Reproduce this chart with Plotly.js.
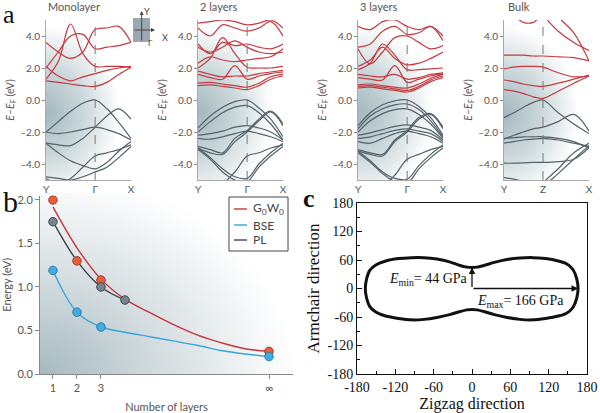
<!DOCTYPE html>
<html><head><meta charset="utf-8">
<script src="https://cdn.plot.ly/plotly-3.0.1.min.js"></script>
<style>html,body{margin:0;padding:0;background:#fff}#chart{width:600px;height:413px}</style>
</head><body><div id="chart"></div>
<script>
// ---------- Panel a : band structures ----------
const kMono = [0, 0.25, 0.5, 0.75, 1, 1.24, 1.48, 1.73];
const kBulk = [0, 0.25, 0.5, 0.75, 1, 1.39, 1.79, 2.18];
const kLabels = ['Y', 'Γ', 'X'];
const kLabelsBulk = ['Y', 'Z', 'X'];
const eTickVals = [-4, -2, 0, 2, 4];
const eTickText = ['–4.0', '–2.0', '0.0', '2.0', '4.0'];
const panelTitles = ['Monolayer', '2 layers', '3 layers', 'Bulk'];

const monoCB = [
  [1.2, 1.1, 1.0, 0.9, 0.85, 1.1, 1.6, 2.05],
  [2.1, 1.5, 1.2, 1.45, 1.65, 1.85, 2.0, 2.1],
  [1.3, 2.4, 4.75, 2.9, 2.1, 2.1, 2.1, 2.05],
  [2.0, 3.0, 4.0, 4.1, 3.2, 3.3, 3.4, 3.6],
  [3.6, 3.0, 2.6, 3.0, 4.4, 4.5, 4.6, 3.6]
];
const monoVB = [
  [-2.0, -1.35, -0.7, -0.2, 0.0, -0.55, -1.4, -2.4],
  [-2.0, -2.1, -2.0, -1.85, -1.7, -1.85, -2.1, -2.5],
  [-2.7, -2.8, -2.85, -2.4, -1.7, -1.0, -0.55, -1.2],
  [-2.7, -3.3, -3.8, -4.1, -4.3, -3.9, -3.2, -2.6],
  [-4.9, -5.2, -4.9, -4.2, -3.5, -3.3, -3.1, -2.8],
  [-4.8, -4.9, -5.0, -4.8, -4.5, -4.2, -3.6, -2.9]
];
const biCB = [
  [0.9, 0.95, 0.85, 0.75, 0.65, 0.9, 1.3, 1.5],
  [1.05, 1.1, 1.0, 0.9, 0.8, 1.05, 1.45, 1.6],
  [1.6, 1.4, 1.3, 2.15, 1.3, 1.5, 1.65, 1.75],
  [1.8, 1.6, 1.45, 1.5, 1.5, 1.65, 1.75, 1.85],
  [2.0, 2.6, 3.9, 2.9, 2.05, 2.0, 2.0, 2.1],
  [2.3, 2.7, 2.5, 2.4, 2.5, 2.6, 2.7, 3.2],
  [3.3, 3.0, 3.3, 3.7, 3.3, 3.0, 2.9, 3.0],
  [3.5, 2.9, 3.6, 3.4, 3.5, 3.3, 3.2, 3.5],
  [4.5, 4.0, 4.7, 4.5, 4.3, 4.5, 4.9, 4.0],
  [4.8, 4.9, 5.0, 4.9, 4.7, 4.8, 5.0, 4.5]
];
const biVB = [
  [-1.75, -1.0, -0.45, -0.1, 0.0, -0.5, -1.2, -2.3],
  [-2.0, -1.35, -0.8, -0.45, -0.35, -0.8, -1.5, -2.5],
  [-2.2, -2.1, -1.95, -1.7, -1.6, -1.75, -2.0, -2.5],
  [-2.4, -2.45, -2.3, -2.1, -1.95, -2.1, -2.3, -2.6],
  [-2.9, -3.1, -3.3, -2.4, -1.9, -1.2, -0.7, -1.5],
  [-3.0, -3.3, -3.4, -2.6, -2.0, -1.3, -0.75, -1.6],
  [-3.0, -3.6, -4.3, -4.8, -4.9, -4.0, -3.3, -2.7],
  [-3.1, -3.7, -4.5, -5.0, -5.1, -4.2, -3.5, -2.9],
  [-5.2, -5.3, -5.2, -4.5, -3.5, -3.3, -3.0, -2.8]
];
const triCB = [
  [0.75, 0.8, 0.7, 0.6, 0.5, 0.75, 1.15, 1.4],
  [0.85, 0.9, 0.8, 0.7, 0.6, 0.85, 1.25, 1.5],
  [0.95, 1.0, 0.9, 0.8, 0.75, 1.0, 1.35, 1.6],
  [1.4, 1.3, 1.25, 2.15, 1.1, 1.3, 1.5, 1.65],
  [1.6, 1.5, 1.45, 1.6, 1.3, 1.4, 1.6, 1.7],
  [1.9, 2.3, 3.5, 2.8, 1.9, 1.9, 1.95, 2.0],
  [2.1, 2.5, 3.3, 2.6, 2.2, 2.3, 2.6, 3.0],
  [3.2, 2.25, 3.0, 3.9, 4.0, 3.6, 3.2, 3.4],
  [3.3, 3.5, 4.3, 4.6, 4.1, 4.2, 4.6, 3.7],
  [4.6, 4.4, 4.9, 5.0, 4.6, 4.4, 4.6, 4.0]
];
const triVB = [
  [-1.6, -0.8, -0.3, -0.05, 0.0, -0.4, -1.1, -2.2],
  [-1.8, -1.0, -0.55, -0.3, -0.25, -0.6, -1.3, -2.3],
  [-2.0, -1.3, -0.85, -0.6, -0.55, -0.9, -1.5, -2.4],
  [-2.2, -2.05, -1.85, -1.65, -1.55, -1.7, -1.9, -2.5],
  [-2.4, -2.3, -2.1, -1.9, -1.8, -1.95, -2.1, -2.6],
  [-2.6, -2.7, -2.4, -2.1, -1.95, -2.1, -2.3, -2.7],
  [-3.1, -3.3, -3.4, -2.5, -1.9, -1.1, -0.85, -1.7],
  [-3.2, -3.4, -3.5, -2.6, -2.0, -1.2, -0.9, -1.8],
  [-3.2, -3.8, -4.5, -4.9, -4.95, -4.1, -3.4, -2.8],
  [-3.3, -3.9, -4.6, -5.1, -5.2, -4.3, -3.6, -3.0],
  [-6.0, -5.8, -5.4, -4.7, -3.7, -3.4, -3.1, -2.9]
];
const bulkCB = [
  [0.65, 0.55, 0.4, 0.2, 0.1, 0.55, 1.05, 1.5],
  [1.25, 1.15, 1.0, 0.9, 0.85, 1.05, 1.3, 1.55],
  [1.95, 2.05, 2.1, 2.1, 2.05, 1.7, 1.45, 1.5],
  [2.8, 2.8, 2.8, 2.75, 2.75, 2.7, 2.65, 2.45],
  [6.0, 5.3, 4.85, 4.85, 5.4, 6.0, 6.5, 7.0],
  [7.5, 7.0, 6.5, 6.0, 5.3, 4.3, 3.6, 3.1],
  [8.0, 8.0, 7.5, 7.0, 6.5, 5.2, 4.2, 2.45]
];
const bulkVB = [
  [-1.1, -0.8, -0.45, -0.15, 0.0, -0.8, -1.5, -2.1],
  [-2.45, -2.2, -2.0, -1.8, -1.7, -1.35, -0.9, -1.95],
  [-2.4, -2.35, -2.3, -2.3, -2.3, -2.4, -2.6, -3.0],
  [-2.7, -2.6, -2.5, -2.45, -2.4, -2.5, -2.7, -2.9],
  [-3.95, -3.95, -3.93, -3.9, -3.9, -3.85, -3.7, -3.0],
  [-4.85, -4.95, -5.1, -5.3, -5.5, -5.8, -6.0, -6.2],
  [-8.0, -8.0, -7.0, -6.5, -5.5, -4.6, -3.7, -2.85],
  [-8.0, -7.5, -7.0, -6.2, -5.2, -4.3, -3.3, -2.7]
];

// ---------- Panel b : energy vs number of layers ----------
const layerTickVals = [1, 2, 3, 10];
const layerTickText = ['1', '2', '3', '∞'];
const energyTickVals = [0, 0.5, 1.0, 1.5, 2.0];
const energyTickText = ['0.0', '0.5', '1.0', '1.5', '2.0'];
const fitLayers = [1, 2, 3, 4, 5, 6, 7, 8, 9, 10];
const g0w0Fit = [1.92, 1.45, 1.09, 0.86, 0.71, 0.57, 0.45, 0.36, 0.29, 0.26];
const bseFit = [1.19, 0.71, 0.54, 0.48, 0.43, 0.38, 0.33, 0.27, 0.23, 0.2];
const plFitLayers = [1, 2, 3, 4];
const plFit = [1.75, 1.3, 1.0, 0.85];
const g0w0Layers = [1, 2, 3, 10];
const g0w0Pts = [2.0, 1.3, 1.08, 0.26];
const bseLayers = [1, 2, 3, 10];
const bsePts = [1.19, 0.71, 0.54, 0.2];
const plLayers = [1, 3, 4];
const plPts = [1.75, 1.0, 0.85];
const legendNames = ['G<sub>0</sub>W<sub>0</sub>', 'BSE', 'PL'];

// ---------- Panel c : Young's modulus polar shape ----------
const zigzag = [166, 164, 158, 148, 135, 115, 95, 75, 55, 35, 20, 8, 0, -8, -20, -35, -55, -75, -95, -115, -135, -150, -160, -165, -167,
  -165, -160, -150, -135, -115, -95, -75, -55, -35, -20, -8, 0, 8, 20, 35, 55, 75, 95, 115, 135, 148, 158, 164, 166];
const armchair = [0, 20, 40, 52, 58, 63, 65, 64, 61, 55, 49, 45, 44, 45, 49, 56, 62, 65, 65, 63, 58, 50, 38, 20, 0,
  -20, -38, -50, -58, -63, -66, -65, -61, -55, -49, -45, -44, -45, -49, -55, -61, -65, -66, -63, -58, -52, -40, -20, 0];
const cTickVals = [-180, -120, -60, 0, 60, 120, 180];
const cTickText = ['-180', '-120', '-60', '0', '60', '120', '180'];
const eMin = 44, eMax = 166;

// ---------- build ----------
const RED = '#c43a40', GRAY = '#52626a';
const SANS = 'Lato, "Noto Sans", sans-serif';
const SERIF = '"Liberation Serif", "Times New Roman", serif';
const TXT = '#555';
const LINE_COLORS = ['#c8353a', '#3aa3dc', '#3c474c'];
const traces = [];
function addBands(rows, k, ax, color) {
  rows.forEach(r => traces.push({x: k, y: r, mode: 'lines', xaxis: 'x' + ax, yaxis: 'y' + ax,
    line: {shape: 'spline', smoothing: 1, color: color, width: 1.2}, showlegend: false, hoverinfo: 'skip'}));
}
addBands(monoVB, kMono, '', GRAY); addBands(monoCB, kMono, '', RED);
addBands(biVB, kMono, '2', GRAY); addBands(biCB, kMono, '2', RED);
addBands(triVB, kMono, '3', GRAY); addBands(triCB, kMono, '3', RED);
addBands(bulkVB, kBulk, '4', GRAY); addBands(bulkCB, kBulk, '4', RED);

// panel b
traces.push({x: fitLayers, y: g0w0Fit, mode: 'lines', name: legendNames[0], xaxis: 'x5', yaxis: 'y5', showlegend: false,
  line: {shape: 'spline', color: LINE_COLORS[0], width: 1.4}});
traces.push({x: fitLayers, y: bseFit, mode: 'lines', name: legendNames[1], xaxis: 'x5', yaxis: 'y5', showlegend: false,
  line: {shape: 'spline', color: LINE_COLORS[1], width: 1.4}});
traces.push({x: plFitLayers, y: plFit, mode: 'lines', name: legendNames[2], xaxis: 'x5', yaxis: 'y5', showlegend: false,
  line: {shape: 'spline', color: LINE_COLORS[2], width: 1.4}});
traces.push({x: g0w0Layers, y: g0w0Pts, mode: 'markers', xaxis: 'x5', yaxis: 'y5', showlegend: false,
  marker: {size: 8.5, color: '#e65f3e', line: {color: '#a8392b', width: 1}}});
traces.push({x: plLayers, y: plPts, mode: 'markers', xaxis: 'x5', yaxis: 'y5', showlegend: false,
  marker: {size: 8.5, color: '#75838a', line: {color: '#3f4b50', width: 1}}});
traces.push({x: bseLayers, y: bsePts, mode: 'markers', xaxis: 'x5', yaxis: 'y5', showlegend: false,
  marker: {size: 8.5, color: '#42abe2', line: {color: '#2b7eae', width: 1}}});

// panel c
traces.push({x: zigzag, y: armchair, mode: 'lines', xaxis: 'x6', yaxis: 'y6', showlegend: false,
  line: {shape: 'spline', smoothing: 0.8, color: '#111', width: 3}});

const W = 600, H = 413;
const px = v => v / W, py = v => 1 - v / H;

function bandAxes(xd, kmax, labels) {
  return [{
    domain: [px(xd[0]), px(xd[1])], range: [0, kmax], tickvals: [0, 1, kmax], ticktext: labels,
    showgrid: false, zeroline: false, showline: true, linecolor: '#aaa', linewidth: 1, ticks: '',
    tickfont: {family: SANS, size: 10, color: TXT}, fixedrange: true
  }, {
    domain: [py(180), py(20)], range: [-5, 5], tickvals: eTickVals, ticktext: eTickText,
    showgrid: false, zeroline: false, showline: true, linecolor: '#aaa', linewidth: 1,
    ticks: 'outside', ticklen: 3, tickcolor: '#888',
    tickfont: {family: SANS, size: 10, color: TXT},
    title: {text: '<i>E</i>–<i>E</i><sub>F</sub> (eV)', font: {family: SANS, size: 10.5, color: TXT}, standoff: 3},
    fixedrange: true
  }];
}
const [x1, y1] = bandAxes([46, 131], kMono[7], kLabels);
const [x2, y2] = bandAxes([198, 283], kMono[7], kLabels);
const [x3, y3] = bandAxes([358, 443], kMono[7], kLabels);
const [x4, y4] = bandAxes([504, 589], kBulk[7], kLabelsBulk);
y2.anchor = 'x2'; x2.anchor = 'y2';
y3.anchor = 'x3'; x3.anchor = 'y3';
y4.anchor = 'x4'; x4.anchor = 'y4';

const bandGrad = "<svg xmlns='http://www.w3.org/2000/svg' width='100' height='100' viewBox='0 0 100 100' preserveAspectRatio='none'><defs><radialGradient id='g' gradientUnits='userSpaceOnUse' cx='0' cy='58' r='100' fx='0' fy='58' gradientTransform='translate(0 58) scale(1 0.62) translate(0 -58)'><stop offset='0' stop-color='#a4b8bf'/><stop offset='0.45' stop-color='#ccd8db'/><stop offset='0.88' stop-color='#ffffff'/></radialGradient></defs><rect width='100' height='100' fill='url(#g)'/></svg>";
const bGrad = "<svg xmlns='http://www.w3.org/2000/svg' width='100' height='100' viewBox='0 0 100 100' preserveAspectRatio='none'><defs><radialGradient id='g' gradientUnits='userSpaceOnUse' cx='0' cy='100' r='104' fx='0' fy='100' gradientTransform='translate(0 100) scale(1 1.1) translate(0 -100)'><stop offset='0' stop-color='#a6b9c0'/><stop offset='0.45' stop-color='#d3dcdf'/><stop offset='0.85' stop-color='#f6f8f9'/><stop offset='0.97' stop-color='#ffffff'/></radialGradient></defs><rect width='100' height='100' fill='url(#g)'/></svg>";
const uri = s => 'data:image/svg+xml;charset=utf-8,' + encodeURIComponent(s);
const images = [];
[[46, 131], [198, 283], [358, 443], [504, 589]].forEach(d => images.push({
  source: uri(bandGrad), xref: 'paper', yref: 'paper', x: px(d[0]), y: py(20), sizex: (d[1] - d[0]) / W, sizey: 160 / H,
  xanchor: 'left', yanchor: 'top', sizing: 'stretch', layer: 'below'}));
images.push({source: uri(bGrad), xref: 'paper', yref: 'paper', x: px(40), y: py(193), sizex: 253 / W, sizey: 181 / H,
  xanchor: 'left', yanchor: 'top', sizing: 'stretch', layer: 'below'});

const shapes = [];
[['x', 'y', 1], ['x2', 'y2', 1], ['x3', 'y3', 1], ['x4', 'y4', 1]].forEach(s => shapes.push({
  type: 'line', xref: s[0], yref: s[1] + ' domain', x0: s[2], x1: s[2], y0: 0, y1: 1,
  line: {color: '#777', width: 1, dash: 'dash'}}));
// inset axis icon
shapes.push({type: 'rect', xref: 'paper', yref: 'paper', x0: px(133), x1: px(150), y0: py(42), y1: py(18),
  fillcolor: '#9aa9b1', line: {width: 0}});
// panel b legend box and samples
shapes.push({type: 'rect', xref: 'paper', yref: 'paper', x0: px(229), x1: px(288), y0: py(251), y1: py(197),
  fillcolor: '#fff', line: {color: '#444', width: 1}});
const legY = [209, 225, 240];
legY.forEach((yy, i) => shapes.push({type: 'line', xref: 'paper', yref: 'paper', x0: px(234), x1: px(247),
  y0: py(yy), y1: py(yy), line: {color: LINE_COLORS[i], width: 1.4}}));

const annotations = [];
legendNames.forEach((n, i) => annotations.push({text: n, xref: 'paper', yref: 'paper', x: px(251), y: py(legY[i]),
  xanchor: 'left', yanchor: 'middle', showarrow: false, font: {family: SANS, size: 12, color: '#444'}}));
const titleX = [46, 198, 358, 506];
panelTitles.forEach((t, i) => annotations.push({text: t, xref: 'paper', yref: 'paper', x: px(titleX[i]), y: py(7),
  xanchor: 'left', yanchor: 'middle', showarrow: false, font: {family: SANS, size: 11, color: TXT}}));
annotations.push({text: '', xref: 'paper', yref: 'paper', x: px(141.7), y: py(11), ax: 0, ay: 31, showarrow: true,
  arrowhead: 2, arrowsize: 0.8, arrowwidth: 1, arrowcolor: '#444'});
annotations.push({text: '', xref: 'paper', yref: 'paper', x: px(155), y: py(30), ax: -22, ay: 0, showarrow: true,
  arrowhead: 2, arrowsize: 0.8, arrowwidth: 1, arrowcolor: '#444'});
annotations.push({text: 'Y', xref: 'paper', yref: 'paper', x: px(141.7), y: py(4), showarrow: false,
  font: {family: SANS, size: 9, color: '#444'}});
annotations.push({text: 'X', xref: 'paper', yref: 'paper', x: px(160), y: py(30), showarrow: false,
  font: {family: SANS, size: 9, color: '#444'}});
annotations.push({text: 'Γ', xref: 'paper', yref: 'paper', x: px(145.5), y: py(36), showarrow: false,
  font: {family: SANS, size: 8, color: '#444'}});
// panel letters
annotations.push({text: 'a', xref: 'paper', yref: 'paper', x: px(1), y: py(14), xanchor: 'left', yanchor: 'middle',
  showarrow: false, font: {family: SERIF, size: 26, color: '#111'}});
annotations.push({text: 'b', xref: 'paper', yref: 'paper', x: px(1), y: py(201), xanchor: 'left', yanchor: 'middle',
  showarrow: false, font: {family: SERIF, size: 30, color: '#111'}});
annotations.push({text: '<b>c</b>', xref: 'paper', yref: 'paper', x: px(301), y: py(199), xanchor: 'left', yanchor: 'middle',
  showarrow: false, font: {family: SERIF, size: 26, color: '#111'}});
// panel c arrows and labels
annotations.push({text: '', xref: 'x6', yref: 'y6', axref: 'x6', ayref: 'y6', x: 0, y: eMin, ax: 0, ay: 0,
  showarrow: true, arrowhead: 2, arrowsize: 1, arrowwidth: 1.3, arrowcolor: '#111'});
annotations.push({text: '', xref: 'x6', yref: 'y6', axref: 'x6', ayref: 'y6', x: eMax, y: 0, ax: 0, ay: 0,
  showarrow: true, arrowhead: 2, arrowsize: 1, arrowwidth: 1.3, arrowcolor: '#111'});
annotations.push({text: '<i>E</i><sub>min</sub>= ' + eMin + ' GPa', xref: 'x6', yref: 'y6', x: -3, y: 18,
  xanchor: 'right', yanchor: 'middle', showarrow: false, font: {family: SERIF, size: 14, color: '#111'}});
annotations.push({text: '<i>E</i><sub>max</sub>= ' + eMax + ' GPa', xref: 'x6', yref: 'y6', x: 5, y: -27,
  xanchor: 'left', yanchor: 'middle', showarrow: false, font: {family: SERIF, size: 14, color: '#111'}});

const layout = {
  width: W, height: H, margin: {l: 0, r: 0, t: 0, b: 0}, paper_bgcolor: '#fff', plot_bgcolor: 'rgba(0,0,0,0)',
  showlegend: false,
  xaxis: x1, yaxis: y1, xaxis2: x2, yaxis2: y2, xaxis3: x3, yaxis3: y3, xaxis4: x4, yaxis4: y4,
  xaxis5: {anchor: 'y5', domain: [px(40), px(293)], range: [0.46, 11], tickvals: layerTickVals, ticktext: layerTickText,
    showgrid: false, zeroline: false, showline: true, linecolor: '#888', ticks: 'outside', ticklen: 4, tickcolor: '#888',
    tickfont: {family: SANS, size: 11, color: TXT},
    title: {text: 'Number of layers', font: {family: SANS, size: 11, color: TXT}, standoff: 12}},
  yaxis5: {anchor: 'x5', domain: [py(374), py(195.6)], range: [0, 2.05], tickvals: energyTickVals, ticktext: energyTickText,
    showgrid: false, zeroline: false, showline: true, linecolor: '#888', ticks: 'outside', ticklen: 4, tickcolor: '#888',
    tickfont: {family: SANS, size: 11, color: TXT},
    title: {text: 'Energy (eV)', font: {family: SANS, size: 11, color: TXT}, standoff: 6}},
  xaxis6: {anchor: 'y6', domain: [px(357), px(587)], range: [-180, 180], tickvals: cTickVals, ticktext: cTickText,
    showgrid: false, zeroline: false, showline: true, mirror: true, linecolor: '#111', linewidth: 1,
    ticks: 'inside', ticklen: 5, tickcolor: '#111',
    minor: {tickmode: 'linear', tick0: -180, dtick: 30, ticks: 'inside', ticklen: 3, tickcolor: '#111'},
    tickfont: {family: SERIF, size: 14, color: '#111'},
    title: {text: 'Zigzag direction', font: {family: SERIF, size: 16, color: '#111'}, standoff: 1}},
  yaxis6: {anchor: 'x6', domain: [py(374), py(203)], range: [-180, 180], tickvals: cTickVals, ticktext: cTickText,
    showgrid: false, zeroline: false, showline: true, mirror: true, linecolor: '#111', linewidth: 1,
    ticks: 'inside', ticklen: 5, tickcolor: '#111',
    minor: {tickmode: 'linear', tick0: -180, dtick: 30, ticks: 'inside', ticklen: 3, tickcolor: '#111'},
    tickfont: {family: SERIF, size: 14, color: '#111'},
    title: {text: 'Armchair direction', font: {family: SERIF, size: 17, color: '#111'}, standoff: 3}},
  images: images, shapes: shapes, annotations: annotations
};
Plotly.newPlot('chart', traces, layout, {displayModeBar: false, staticPlot: true});
</script></body></html>
